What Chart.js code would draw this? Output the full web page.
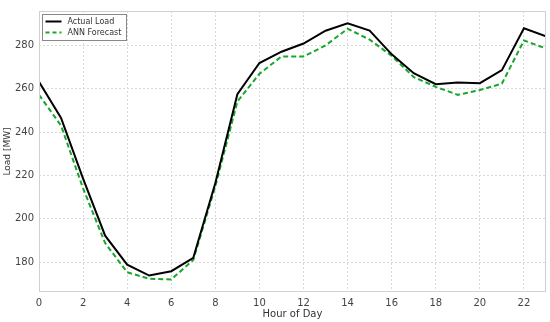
<!DOCTYPE html>
<html><head><meta charset="utf-8">
<script src="https://cdn.jsdelivr.net/npm/chart.js@4"></script>
<style>html,body{margin:0;padding:0;background:#fff}#wrap{width:550px;height:322px}</style>
</head><body><div id="wrap"><canvas id="c" width="550" height="322"></canvas></div>
<script>
const hours = [0,1,2,3,4,5,6,7,8,9,10,11,12,13,14,15,16,17,18,19,20,21,22,23];
const actualLoad = [263.2,246.5,218.5,192.2,178.8,173.8,175.8,182.0,216.5,257.5,271.9,277.1,280.9,286.8,290.2,286.9,275.9,267.2,262.1,262.9,262.6,268.6,287.9,284.2];
const annForecast = [257.2,243.0,214.0,188.8,175.3,172.3,172.0,181.0,215.0,254.1,266.9,274.9,274.9,280.0,287.7,282.7,275.2,265.4,260.9,257.2,259.4,262.4,282.3,278.6];
const xTicks = [0,2,4,6,8,10,12,14,16,18,20,22];
const yTicks = [180,200,220,240,260,280];
const seriesNames = ['Actual Load','ANN Forecast'];
const xTitle = 'Hour of Day';
const yTitle = 'Load [MW]';

const FONT = "'DejaVu Sans', sans-serif";
const GREEN = '#16a82a';

const framePlugin = {
  id: 'frame',
  afterDraw(chart) {
    const {ctx, chartArea: a} = chart;
    ctx.save();
    ctx.strokeStyle = '#d0d0d0';
    ctx.lineWidth = 1;
    ctx.strokeRect(a.left + 0.5, a.top + 0.5, a.right - a.left - 1, a.bottom - a.top - 1);
    // legend
    const lx = a.left + 3.5, ly = a.top + 3.5, lw = 84, lh = 26;
    ctx.fillStyle = 'rgba(255,255,255,0.9)';
    ctx.fillRect(lx, ly, lw, lh);
    ctx.strokeStyle = '#888';
    ctx.lineWidth = 1;
    ctx.strokeRect(lx, ly, lw, lh);
    ctx.font = "8px " + FONT;
    ctx.textBaseline = 'middle';
    ctx.fillStyle = '#333';
    const rows = [{c:'#000', d:[]}, {c:GREEN, d:[4,3]}];
    rows.forEach((r, i) => {
      const yy = ly + 7 + i * 11;
      ctx.beginPath();
      ctx.setLineDash(r.d);
      ctx.strokeStyle = r.c;
      ctx.lineWidth = 2;
      ctx.moveTo(lx + 3, yy);
      ctx.lineTo(lx + 19, yy);
      ctx.stroke();
      ctx.setLineDash([]);
      ctx.fillText(seriesNames[i], lx + 25, yy);
    });
    ctx.restore();
  }
};

new Chart(document.getElementById('c'), {
  type: 'line',
  data: {
    datasets: [
      {label: seriesNames[0], data: hours.map((h,i)=>({x:h,y:actualLoad[i]})), borderColor:'#000', borderWidth:2, pointRadius:0, tension:0, fill:false},
      {label: seriesNames[1], data: hours.map((h,i)=>({x:h,y:annForecast[i]})), borderColor:GREEN, borderWidth:2, borderDash:[5,3], pointRadius:0, tension:0, fill:false}
    ]
  },
  options: {
    responsive: false,
    animation: false,
    devicePixelRatio: 1,
    layout: {padding: {top: 4, right: 4, left: 0, bottom: 0}},
    plugins: {legend: {display: false}, tooltip: {enabled: false}},
    scales: {
      x: {
        type: 'linear', min: 0, max: 23,
        afterBuildTicks(s) { s.ticks = xTicks.map(v => ({value: v})); },
        afterFit(s) { s.height = 30; },
        grid: {color: '#d8d8d8', lineWidth: 1, drawTicks: false},
        border: {display: false, dash: [2,2]},
        ticks: {color: '#444', font: {family: FONT, size: 10}, padding: 5, maxRotation: 0},
        title: {display: true, text: xTitle, color: '#333', font: {family: FONT, size: 10}, padding: {top: 0, bottom: 2}}
      },
      y: {
        type: 'linear', min: 166.2, max: 295.9,
        afterBuildTicks(s) { s.ticks = yTicks.map(v => ({value: v})); },
        afterFit(s) { s.width = 39; },
        grid: {color: '#d8d8d8', lineWidth: 1, drawTicks: false},
        border: {display: false, dash: [2,2]},
        ticks: {color: '#444', font: {family: FONT, size: 10}, padding: 5},
        title: {display: true, text: yTitle, color: '#333', font: {family: FONT, size: 9}, padding: {top: 2, bottom: 0}}
      }
    }
  },
  plugins: [framePlugin]
});
</script></body></html>
